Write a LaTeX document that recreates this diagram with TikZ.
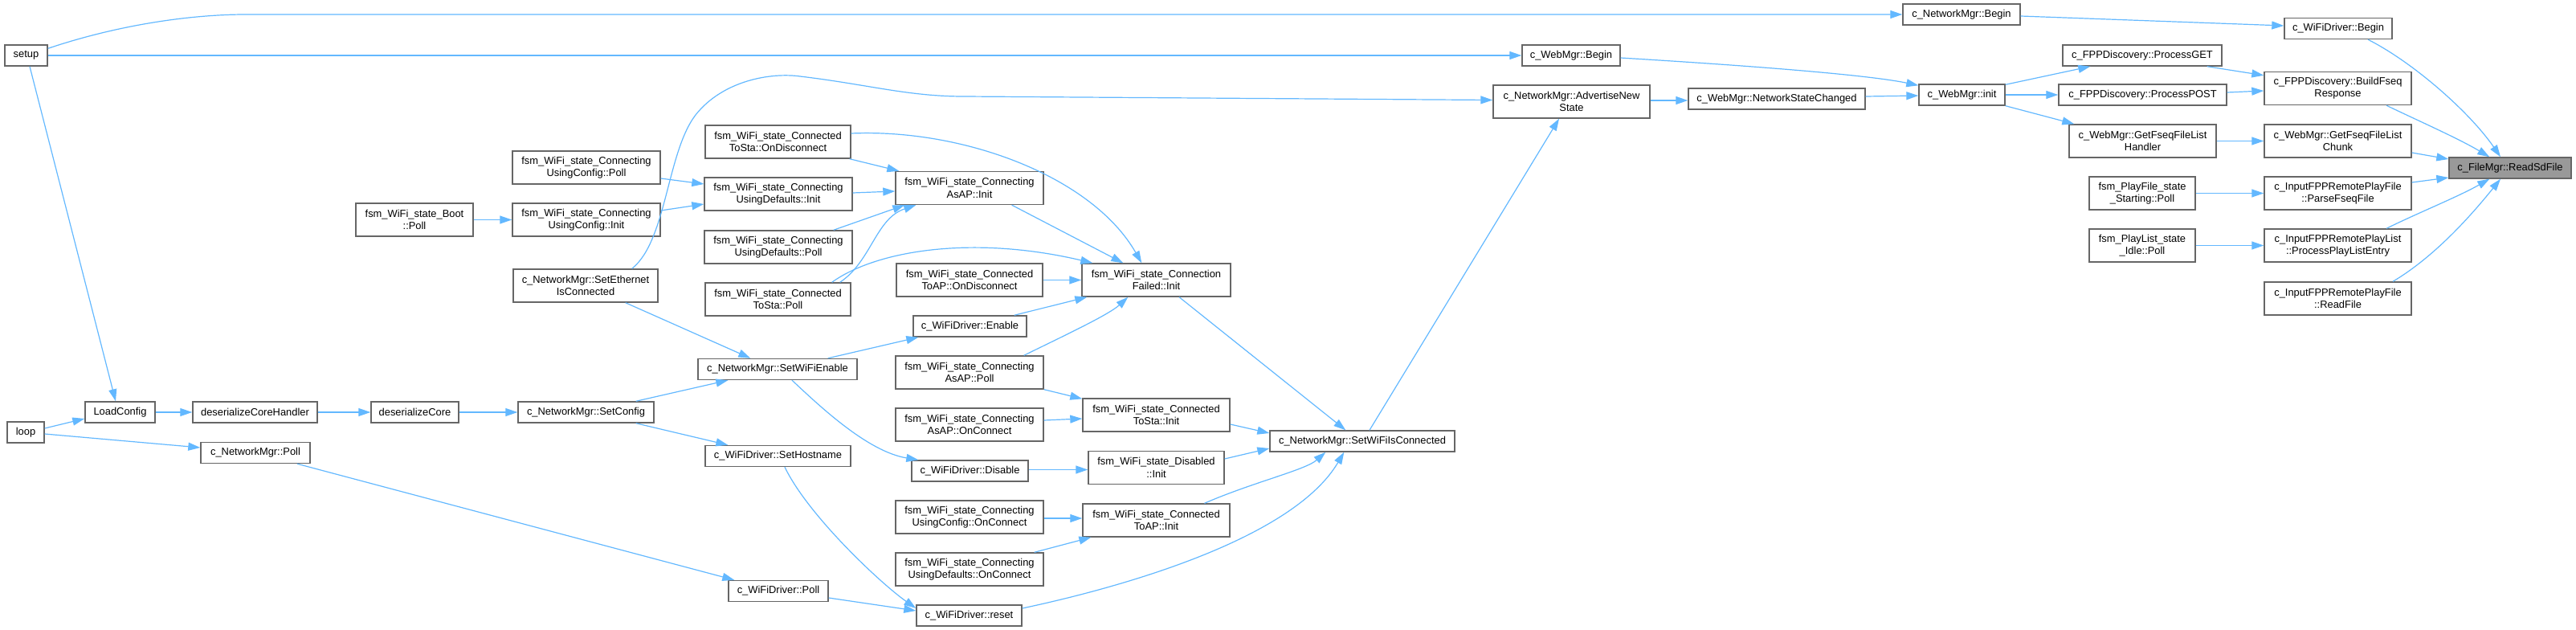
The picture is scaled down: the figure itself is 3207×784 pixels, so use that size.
\documentclass[tikz,border=0pt]{standalone}
\usepackage{fontspec}
\setmainfont{Liberation Sans}
\usetikzlibrary{arrows.meta,calc}
\definecolor{edgeblue}{HTML}{63B8FF}
\definecolor{nodeborder}{HTML}{666666}
\definecolor{rootfill}{HTML}{999999}
\newcommand\nodefnt{\fontsize{12.9}{15.3}\selectfont}
\tikzset{
 fn/.style={draw=nodeborder, line width=1.4pt, fill=white, inner sep=0pt, align=center, font=\nodefnt, minimum height=26pt},
 fn2/.style={fn, minimum height=41pt},
 call/.style={draw=edgeblue, line width=1.2pt, -{Triangle[length=15pt,width=10pt]}},
}
\begin{document}
\begin{tikzpicture}[x=1pt,y=-1pt]
\useasboundingbox (0,0) rectangle (3207,784);
% nodes
\node[fn, minimum width=53pt] (setup) at (32.5,69) {setup};
\node[fn, minimum width=46pt] (loop) at (32,538) {loop};
\node[fn, minimum width=87pt] (loadcfg) at (149.5,513) {LoadConfig};
\node[fn, minimum width=155pt] (dsch) at (317.5,513) {deserializeCoreHandler};
\node[fn, minimum width=109pt] (dsc) at (516.5,513) {deserializeCore};
\node[fn, minimum width=136pt] (nmpoll) at (318,563.5) {c\_NetworkMgr::Poll};
\node[fn2, minimum width=146pt] (boot) at (516,273.5) {fsm\_WiFi\_state\_Boot\\::Poll};
\node[fn2, minimum width=184pt] (ucpoll) at (730,208.5) {fsm\_WiFi\_state\_Connecting\\UsingConfig::Poll};
\node[fn2, minimum width=184pt] (ucinit) at (730,273.5) {fsm\_WiFi\_state\_Connecting\\UsingConfig::Init};
\node[fn2, minimum width=180pt] (seteth) at (729,355.5) {c\_NetworkMgr::SetEthernet\\IsConnected};
\node[fn, minimum width=169pt] (setcfg) at (729.5,513) {c\_NetworkMgr::SetConfig};
\node[fn, minimum width=198pt] (wifien) at (968,459.5) {c\_NetworkMgr::SetWiFiEnable};
\node[fn, minimum width=181pt] (sethost) at (968.5,567.5) {c\_WiFiDriver::SetHostname};
\node[fn, minimum width=124pt] (wdpoll) at (969,735.5) {c\_WiFiDriver::Poll};
\node[fn2, minimum width=181pt] (ctsdisc) at (968.5,176.5) {fsm\_WiFi\_state\_Connected\\ToSta::OnDisconnect};
\node[fn2, minimum width=184pt] (udinit) at (969,241.5) {fsm\_WiFi\_state\_Connecting\\UsingDefaults::Init};
\node[fn2, minimum width=184pt] (udpoll) at (969,307.5) {fsm\_WiFi\_state\_Connecting\\UsingDefaults::Poll};
\node[fn2, minimum width=181pt] (ctspoll) at (968.5,372.5) {fsm\_WiFi\_state\_Connected\\ToSta::Poll};
\node[fn2, minimum width=184pt] (apinit) at (1207,234) {fsm\_WiFi\_state\_Connecting\\AsAP::Init};
\node[fn2, minimum width=182pt] (ctapdisc) at (1207,348.5) {fsm\_WiFi\_state\_Connected\\ToAP::OnDisconnect};
\node[fn, minimum width=141pt] (wden) at (1207.5,406) {c\_WiFiDriver::Enable};
\node[fn2, minimum width=184pt] (appoll) at (1207,463.5) {fsm\_WiFi\_state\_Connecting\\AsAP::Poll};
\node[fn2, minimum width=184pt] (apconn) at (1207,528.5) {fsm\_WiFi\_state\_Connecting\\AsAP::OnConnect};
\node[fn, minimum width=145pt] (wddis) at (1207.5,586) {c\_WiFiDriver::Disable};
\node[fn2, minimum width=184pt] (ucconn) at (1207,643.5) {fsm\_WiFi\_state\_Connecting\\UsingConfig::OnConnect};
\node[fn2, minimum width=184pt] (udconn) at (1207,708.5) {fsm\_WiFi\_state\_Connecting\\UsingDefaults::OnConnect};
\node[fn, minimum width=131pt] (wdreset) at (1206.5,766) {c\_WiFiDriver::reset};
\node[fn2, minimum width=185pt] (cfinit) at (1439.5,348.5) {fsm\_WiFi\_state\_Connection\\Failed::Init};
\node[fn2, minimum width=183pt] (ctsinit) at (1439.5,516.5) {fsm\_WiFi\_state\_Connected\\ToSta::Init};
\node[fn2, minimum width=169pt] (disinit) at (1439.5,582) {fsm\_WiFi\_state\_Disabled\\::Init};
\node[fn2, minimum width=183pt] (ctapinit) at (1439.5,647.5) {fsm\_WiFi\_state\_Connected\\ToAP::Init};
\node[fn, minimum width=230pt] (setwic) at (1696,549) {c\_NetworkMgr::SetWiFiIsConnected};
\node[fn2, minimum width=195pt] (adv) at (1956.5,126.5) {c\_NetworkMgr::AdvertiseNew\\State};
\node[fn, minimum width=122pt] (wbegin) at (1956,69) {c\_WebMgr::Begin};
\node[fn, minimum width=220pt] (nsc) at (2212,123) {c\_WebMgr::NetworkStateChanged};
\node[fn, minimum width=146pt] (nmbegin) at (2442,18) {c\_NetworkMgr::Begin};
\node[fn, minimum width=107pt] (winit) at (2442.5,118) {c\_WebMgr::init};
\node[fn, minimum width=198pt] (pget) at (2667,69) {c\_FPPDiscovery::ProcessGET};
\node[fn, minimum width=209pt] (ppost) at (2667.5,118) {c\_FPPDiscovery::ProcessPOST};
\node[fn2, minimum width=183pt] (gflh) at (2667.5,175.5) {c\_WebMgr::GetFseqFileList\\Handler};
\node[fn2, minimum width=132pt] (pfpoll) at (2667,240.5) {fsm\_PlayFile\_state\\\_Starting::Poll};
\node[fn2, minimum width=132pt] (plpoll) at (2667,305.5) {fsm\_PlayList\_state\\\_Idle::Poll};
\node[fn, minimum width=134pt] (wdbegin) at (2911,35.5) {c\_WiFiDriver::Begin};
\node[fn2, minimum width=183pt] (bfr) at (2910.5,110) {c\_FPPDiscovery::BuildFseq\\Response};
\node[fn2, minimum width=183pt] (gflc) at (2910.5,175.5) {c\_WebMgr::GetFseqFileList\\Chunk};
\node[fn2, minimum width=183pt] (pfsf) at (2910.5,240.5) {c\_InputFPPRemotePlayFile\\::ParseFseqFile};
\node[fn2, minimum width=183pt] (ppl) at (2910.5,305.5) {c\_InputFPPRemotePlayList\\::ProcessPlayListEntry};
\node[fn2, minimum width=183pt] (rdf) at (2910.5,371.5) {c\_InputFPPRemotePlayFile\\::ReadFile};
\node[fn, minimum width=152pt, fill=rootfill] (rsd) at (3125,209) {c\_FileMgr::ReadSdFile};
% edges
\draw[call] ($(setup.north east)+(0,5)$) .. controls (150,30) and (240,18) .. (306,18) -- (nmbegin.west);
\draw[call] (setup.east) -- (wbegin.west);
\draw[call] ($(setup.south)+(4.5,0)$) -- ($(loadcfg.north)+(-5.5,0)$);
\draw[call] ($(loop.east)+(0,-5)$) -- ($(loadcfg.west)+(0,8)$);
\draw[call] ($(loop.east)+(0,2)$) -- ($(nmpoll.west)+(0,-6.5)$);
\draw[call] (loadcfg) -- (dsch);
\draw[call] (dsch) -- (dsc);
\draw[call] (dsc) -- (setcfg);
\draw[call] ($(nmpoll.south)+(52,0)$) -- ($(wdpoll.north west)+(8,0)$);
\draw[call] ($(setcfg.north east)+(-23,0)$) -- ($(wifien.south west)+(38,0)$);
\draw[call] ($(setcfg.south east)+(-23,0)$) -- ($(sethost.north west)+(29,0)$);
\draw[call] ($(seteth.south east)+(-41,0)$) -- ($(wifien.north west)+(66,0)$);
\draw[call] ($(seteth.north east)+(-33,0)$) .. controls (830,300) and (830,190) .. (866,143) .. controls (900,100) and (960,90) .. (996,95) .. controls (1080,105) and (1130,120) .. (1200,120) -- ($(adv.west)+(0,-2)$);
\draw[call] ($(wifien.north east)+(-37,0)$) -- ($(wden.south west)+(7,0)$);
\draw[call] ($(wifien.south)+(18,0)$) .. controls (1020,505) and (1080,562) .. ($(wddis.north west)+(9,0)$);
\draw[call] ($(sethost.south)+(8.5,0)$) .. controls (1005,640) and (1095,725) .. ($(wdreset.west)+(0,-9)$);
\draw[call] ($(wdpoll.east)+(0,8.5)$) -- ($(wdreset.west)+(0,-6)$);
\draw[call] (boot) -- (ucinit);
\draw[call] ($(ucpoll.east)+(0,13.5)$) -- ($(udinit.west)+(0,-12.5)$);
\draw[call] ($(ucinit.east)+(0,-11.5)$) -- ($(udinit.west)+(0,12.5)$);
\draw[call] ($(ctsdisc.south east)+(-2,0)$) -- ($(apinit.north west)+(5,0)$);
\draw[call] ($(ctsdisc.east)+(0,-10.5)$) .. controls (1200,160) and (1360,220) .. ($(cfinit.north west)+(75,0)$);
\draw[call] ($(udinit.east)+(0,-1.5)$) -- ($(apinit.west)+(0,4)$);
\draw[call] ($(udpoll.north east)+(-24,0)$) -- ($(apinit.south west)+(12,0)$);
\draw[call] ($(ctspoll.north east)+(-14,0)$) .. controls (1085,325) and (1090,272) .. ($(apinit.south west)+(26,0)$);
\draw[call] ($(ctspoll.north east)+(-24,0)$) .. controls (1090,312) and (1210,292) .. ($(cfinit.north west)+(14,0)$);
\draw[call] ($(apinit.south east)+(-40,0)$) -- ($(cfinit.north west)+(52,0)$);
\draw[call] (ctapdisc) -- (cfinit);
\draw[call] ($(wden.north east)+(-16,0)$) -- ($(cfinit.south west)+(7,0)$);
\draw[call] ($(appoll.north east)+(-25,0)$) .. controls (1320,420) and (1380,392) .. ($(cfinit.south west)+(58,0)$);
\draw[call] ($(cfinit.south)+(28.5,0)$) -- ($(setwic.north west)+(95,0)$);
\draw[call] (appoll.south east) -- ($(ctsinit.north west)+(0,1)$);
\draw[call] ($(apconn.east)+(0,-5.5)$) -- ($(ctsinit.west)+(0,4.5)$);
\draw[call] ($(wddis.east)+(0,-1.5)$) -- ($(disinit.west)+(0,2.5)$);
\draw[call] ($(ucconn.east)+(0,1.5)$) -- ($(ctapinit.west)+(0,-2.5)$);
\draw[call] ($(udconn.north east)+(-12,0)$) -- ($(ctapinit.south west)+(11,0)$);
\draw[call] ($(ctsinit.east)+(0,11.5)$) -- ($(setwic.west)+(0,-10)$);
\draw[call] ($(disinit.east)+(0,-11)$) -- ($(setwic.west)+(0,9)$);
\draw[call] ($(ctapinit.north)+(60,0)$) .. controls (1560,600) and (1625,585) .. ($(setwic.south west)+(70,0)$);
\draw[call] ($(wdreset.east)+(0,-9)$) .. controls (1400,730) and (1610,670) .. ($(setwic.south west)+(93,0)$);
\draw[call] ($(setwic.north)+(9,0)$) -- ($(adv.south)+(-15.5,0)$);
\draw[call] ($(adv.east)+(0,-1.5)$) -- ($(nsc.west)+(0,2)$);
\draw[call] ($(nsc.east)+(0,-3)$) -- ($(winit.west)+(0,1)$);
\draw[call] ($(wbegin.east)+(0,3)$) .. controls (2150,80) and (2320,92) .. ($(winit.north west)+(0,2)$);
\draw[call] ($(winit.north east)+(0,1)$) -- ($(pget.south west)+(35,0)$);
\draw[call] (winit) -- (ppost);
\draw[call] (winit.south east) -- ($(gflh.north west)+(7,0)$);
\draw[call] ($(pget.south east)+(-19,0)$) -- ($(bfr.north west)+(0,5)$);
\draw[call] ($(ppost.east)+(0,-3)$) -- ($(bfr.west)+(0,3)$);
\draw[call] (gflh) -- (gflc);
\draw[call] (pfpoll) -- (pfsf);
\draw[call] (plpoll) -- (ppl);
\draw[call] ($(nmbegin.east)+(0,2)$) -- ($(wdbegin.west)+(0,-3.5)$);
\draw[call] ($(wdbegin.south)+(37,0)$) .. controls (3005,78) and (3075,140) .. ($(rsd.north)+(-12,0)$);
\draw[call] ($(bfr.south)+(60.5,0)$) .. controls (3010,150) and (3060,172) .. ($(rsd.north west)+(51,0)$);
\draw[call] ($(gflc.east)+(0,14.5)$) -- ($(rsd.west)+(0,-11)$);
\draw[call] ($(pfsf.east)+(0,-13.5)$) -- ($(rsd.west)+(0,12)$);
\draw[call] ($(ppl.north)+(60.5,0)$) .. controls (3010,265) and (3060,245) .. ($(rsd.south west)+(51,0)$);
\draw[call] ($(rdf.north)+(68.5,0)$) .. controls (3030,320) and (3075,270) .. ($(rsd.south)+(-12,0)$);
\end{tikzpicture}
\end{document}
